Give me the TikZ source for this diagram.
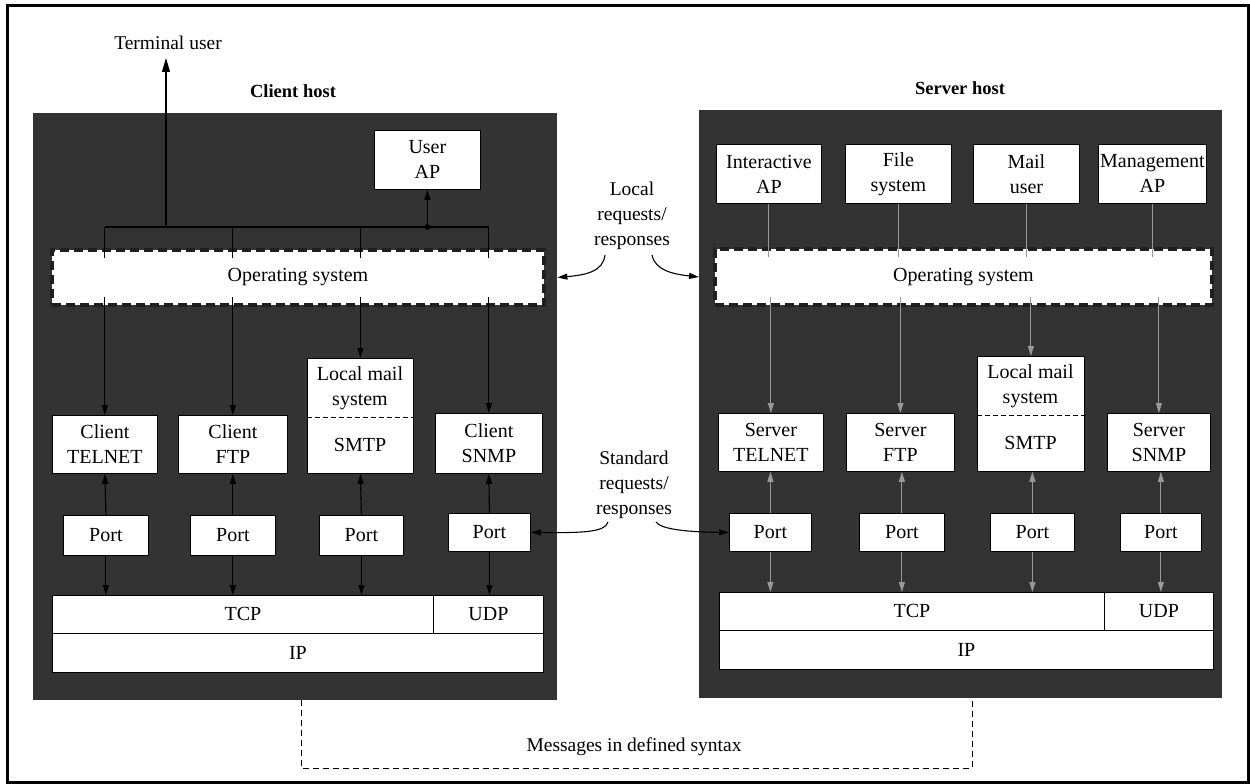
\documentclass[tikz,border=0pt]{standalone}
\usepackage{fontspec}
\setmainfont{Liberation Serif}
\usetikzlibrary{arrows.meta,calc}

\begin{document}
\begin{tikzpicture}[x=1pt,y=-1pt,
  host/.style={fill=black!80, draw=none, inner sep=0pt, anchor=north west},
  box/.style={draw=black, line width=0.8pt, fill=white, inner sep=0pt,
    anchor=north west, align=center, font=\fontsize{20}{25}\selectfont},
  osbox/.style={fill=white, draw=black!88, line width=4pt,
    dash pattern=on 9pt off 5pt, inner sep=0pt, anchor=north west,
    font=\fontsize{20}{25}\selectfont},
  txt/.style={inner sep=0pt, font=\fontsize{20}{25}\selectfont, align=center},
  lbl/.style={inner sep=0pt, font=\fontsize{19.5}{25}\selectfont, align=center},
  hostlbl/.style={inner sep=0pt, font=\bfseries\fontsize{18.5}{22}\selectfont},
  tip/.style={-{Triangle[length=10pt,width=6pt]}},
  cl/.style={draw=black, line width=1.1pt},
  sl/.style={draw=black!40, line width=1.1pt},
  curve/.style={draw=black, line width=1.1pt, -{Triangle[length=10pt,width=6pt]}},
  msg/.style={draw=black, line width=1pt, dash pattern=on 6pt off 4pt}
]
\useasboundingbox (0,0) rectangle (1250,784);
\fill[white] (0,0) rectangle (1250,784);
\draw[line width=3pt] (7.5,5.5) rectangle (1248.5,782.5);

% ---------- client host ----------
\node[hostlbl] (clbl) at (293,91) {Client host};
\node[host, minimum width=524pt, minimum height=587pt] (client) at (33,113) {};

\node[box, minimum width=106pt, minimum height=59pt] (uap) at (374,130) {User\\AP};
\node[osbox, minimum width=492pt, minimum height=55pt] (cos) at (50,248) {Operating system};

\node[box, minimum width=105pt, minimum height=58pt] (ctel) at (52,415) {Client\\TELNET};
\node[box, minimum width=109pt, minimum height=58pt] (cftp) at (178,415) {Client\\FTP};
\node[box, minimum width=106pt, minimum height=115pt] (csmtp) at (307,358) {};
\node[box, minimum width=107pt, minimum height=60pt] (csnmp) at (435,413) {Client\\SNMP};
\draw[line width=1pt, dash pattern=on 5pt off 3pt] (csmtp.west |- 0,417) -- (csmtp.east |- 0,417);
\node[txt] (cmail) at (360,388) {Local mail\\system};
\node[txt] (csmtpt) at (360,445) {SMTP};

\node[box, minimum width=85pt, minimum height=40pt] (cp1) at (63,515) {Port};
\node[box, minimum width=85pt, minimum height=40pt] (cp2) at (190,515) {Port};
\node[box, minimum width=84pt, minimum height=40pt] (cp3) at (319,515) {Port};
\node[box, minimum width=82pt, minimum height=38pt] (cp4) at (448,513) {Port};

\node[box, minimum width=381pt, minimum height=38pt] (ctcp) at (52,595) {TCP};
\node[box, minimum width=110pt, minimum height=38pt] (cudp) at (433,595) {UDP};
\node[box, minimum width=491pt, minimum height=39pt] (cip) at (52,633) {IP};

% bus from the applications to the operating system
\coordinate (cb1) at (ctel.north |- 0,227);
\coordinate (cb2) at (cftp.north |- 0,227);
\coordinate (cb3) at (csmtp.north |- 0,227);
\coordinate (cb4) at (csnmp.north |- 0,227);
\coordinate (cbt) at (166,227);
\coordinate (cbu) at (uap.south |- 0,227);
\coordinate (term) at (166,58);
\draw[cl] (cb1) -- (cb4);
\draw[cl, -{Triangle[length=14pt,width=8pt]}] (cbt) -- (term);
\node[lbl] (tuser) at (168,43) {Terminal user};
\draw[cl, tip] (cbu) -- (uap.south);
\fill (cbu) circle (3pt);
\foreach \b in {cb1,cb2,cb3,cb4}
  \draw[cl] (\b) -- ($(\b |- cos.north)+(0,10)$);
\foreach \n in {ctel,cftp,csmtp,csnmp}
  \draw[cl, tip] ($(\n.north |- cos.south)+(0,-10)$) -- (\n.north);
\foreach \n/\p in {ctel/cp1,cftp/cp2,csmtp/cp3,csnmp/cp4}{
  \draw[cl, tip] (\p.north) -- (\n.south);
  \draw[cl, tip] (\p.south) -- (\p.south |- ctcp.north);
}

% ---------- server host ----------
\node[hostlbl] (slbl) at (960,88) {Server host};
\node[host, minimum width=523pt, minimum height=588pt] (server) at (699,110) {};

\node[box, minimum width=105pt, minimum height=59pt] (sia) at (716,144) {Interactive\\AP};
\node[box, minimum width=106pt, minimum height=59pt] (sfs) at (845,144) {File\\system};
\node[box, minimum width=106pt, minimum height=59pt] (smu) at (973,144) {Mail\\user};
\node[box, minimum width=108pt, minimum height=59pt] (sma) at (1098,144) {Management\\AP};
\node[osbox, minimum width=497pt, minimum height=56pt] (sos) at (713,247) {Operating system};

\node[box, minimum width=105pt, minimum height=58pt] (stel) at (718,413) {Server\\TELNET};
\node[box, minimum width=108pt, minimum height=58pt] (sftp) at (846,413) {Server\\FTP};
\node[box, minimum width=107pt, minimum height=115pt] (ssmtp) at (977,356) {};
\node[box, minimum width=103pt, minimum height=58pt] (ssnmp) at (1107,413) {Server\\SNMP};
\draw[line width=1pt, dash pattern=on 5pt off 3pt] (ssmtp.west |- 0,415) -- (ssmtp.east |- 0,415);
\node[txt] (smail) at (1030.5,386) {Local mail\\system};
\node[txt] (ssmtpt) at (1030.5,443) {SMTP};

\node[box, minimum width=82pt, minimum height=38pt] (sp1) at (729,513) {Port};
\node[box, minimum width=85pt, minimum height=38pt] (sp2) at (859,513) {Port};
\node[box, minimum width=84pt, minimum height=38pt] (sp3) at (990,513) {Port};
\node[box, minimum width=81pt, minimum height=38pt] (sp4) at (1120,513) {Port};

\node[box, minimum width=385pt, minimum height=38pt] (stcp) at (719,592) {TCP};
\node[box, minimum width=109pt, minimum height=38pt] (sudp) at (1104,592) {UDP};
\node[box, minimum width=494pt, minimum height=39pt] (sip) at (719,630) {IP};

\foreach \a/\n in {sia/stel,sfs/sftp,smu/ssmtp,sma/ssnmp}{
  \draw[sl] (\a.south) -- ($(\a.south |- sos.north)+(0,10)$);
  \draw[sl, tip] ($(\n.north |- sos.south)+(0,-10)$) -- (\n.north);
}
\foreach \n/\p in {stel/sp1,sftp/sp2,ssmtp/sp3,ssnmp/sp4}{
  \draw[sl, tip] (\p.north) -- (\p.north |- \n.south);
  \draw[sl, tip] (\p.south) -- (\p.south |- stcp.north);
}

% ---------- exchanges between the hosts ----------
\node[lbl] (lreq) at (632,216) {Local\\requests/\\responses};
\coordinate (lreqa) at (605,255);
\coordinate (lreqb) at (652,255);
\draw[curve] (lreqa) .. controls (603,272) and (585,275) .. (client.east |- cos.east);
\draw[curve] (lreqb) .. controls (655,270) and (672,274) .. (server.west |- sos.west);

\node[lbl] (sreq) at (634,485) {Standard\\requests/\\responses};
\coordinate (sreqa) at (608,522);
\coordinate (sreqb) at (656,522);
\draw[curve] (sreqa) .. controls (605,532) and (585,533) .. (cp4.east);
\draw[curve] (sreqb) .. controls (660,528) and (680,532) .. (sp1.west);

\coordinate (mc) at (client.south |- 0,768);
\coordinate (ms) at (972,768);
\draw[msg] (301,700) coordinate (mca) -- (mca |- mc) -- (ms) -- (ms |- server.south);
\node[lbl] (mtxt) at (634,747) {Messages in defined syntax};
\end{tikzpicture}
\end{document}
